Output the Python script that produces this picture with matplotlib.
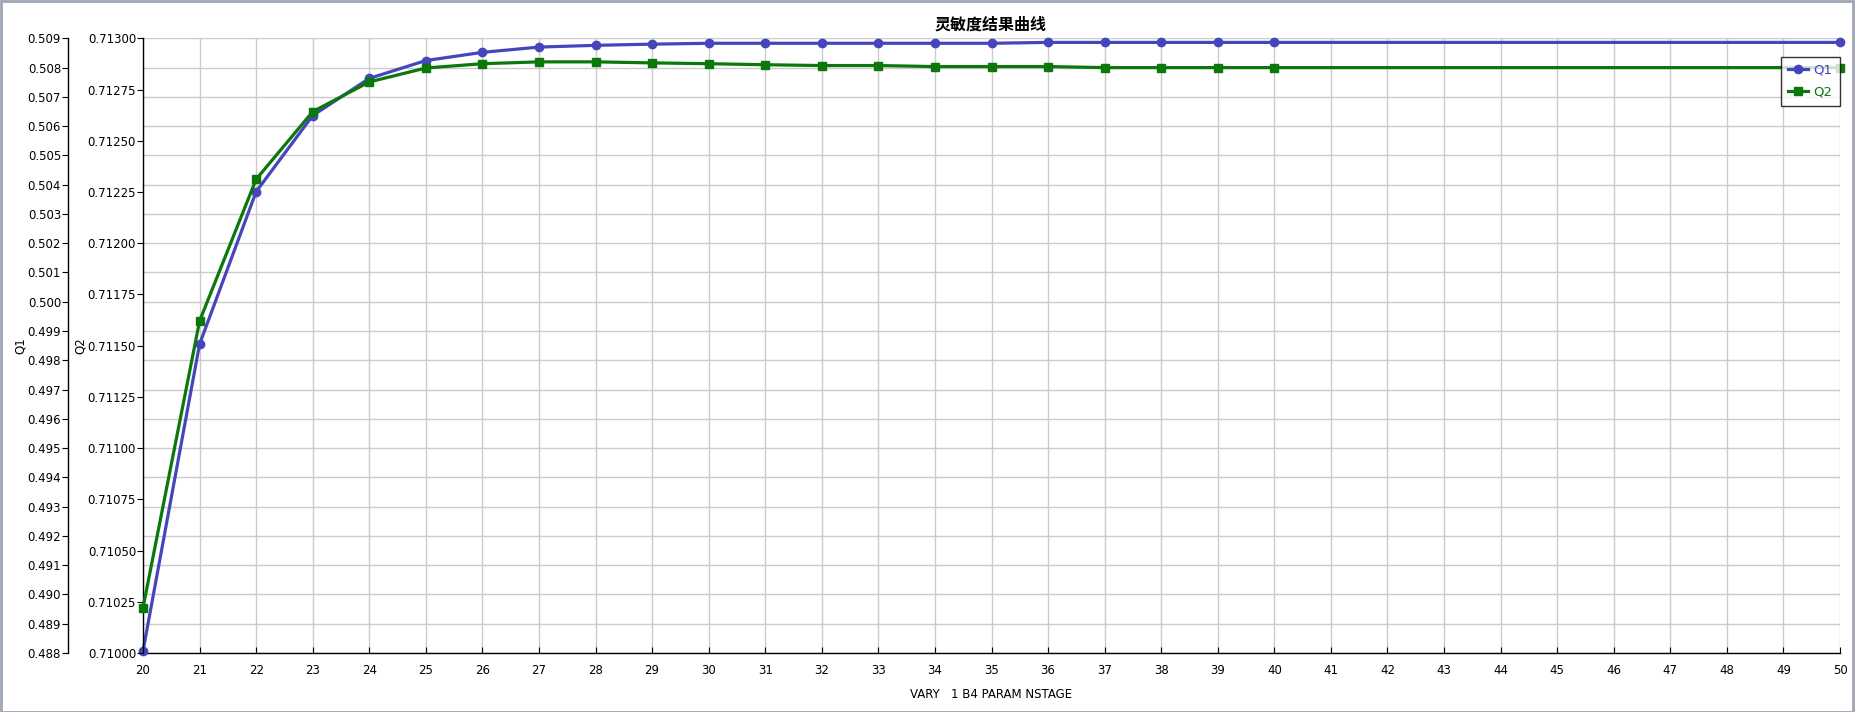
import matplotlib
matplotlib.use("Agg")
import matplotlib.pyplot as plt
from matplotlib.patches import Rectangle

plt.rcParams['font.family'] = ['DejaVu Sans', 'Noto Sans CJK SC']

# NSTAGE (x) and results
x = [20, 21, 22, 23, 24, 25, 26, 27, 28, 29, 30, 31, 32, 33, 34, 35, 36, 37,
     38, 39, 40, 50]
q1 = [0.48807, 0.49855, 0.50376, 0.50636, 0.50763, 0.50824, 0.50852, 0.50870,
      0.50876, 0.50880, 0.50883, 0.50883, 0.50883, 0.50883, 0.50883, 0.50883,
      0.50886, 0.50886, 0.50886, 0.50886, 0.50886, 0.50886]
q2 = [0.710221, 0.711620, 0.712312, 0.712642, 0.712787, 0.712855, 0.712876,
      0.712885, 0.712885, 0.712880, 0.712876, 0.712871, 0.712867, 0.712867,
      0.712862, 0.712862, 0.712862, 0.712857, 0.712857, 0.712857, 0.712857,
      0.712857]

q1_ticks = [0.488 + 0.001 * i for i in range(22)]
q2_ticks = [0.71 + 0.00025 * i for i in range(13)]
x_ticks = list(range(20, 51))

c_q1 = "#4646bc"
c_q2 = "#0a780a"

fig = plt.figure(figsize=(18.6, 7.12), dpi=100)
fig.patches.append(Rectangle((0.0005, 0.0), 0.9955, 0.998, transform=fig.transFigure,
                             fill=False, edgecolor="#9ea6b4", linewidth=2))

ax = fig.add_axes([143 / 1860, 59 / 712, 1697 / 1860, 614.7 / 712])
ax2 = ax.twinx()

# Q1 on the outer left axis
ax.plot(x, q1, color=c_q1, lw=2.3, marker="o", ms=6, label="Q1", clip_on=False, zorder=3)
ax.set_ylim(0.488, 0.509)
ax.set_yticks(q1_ticks)
ax.set_yticklabels(["%.3f" % v for v in q1_ticks])
ax.spines['left'].set_position(('outward', 75 * 0.72))
for s in ['top', 'right']:
    ax.spines[s].set_visible(False)
ax.set_ylabel("Q1", fontsize=8.5)
ax.yaxis.set_label_coords(-(143 - 27) / 1697, 0.5)

# Q2 on the inner left axis
ax2.plot(x, q2, color=c_q2, lw=2.3, marker="s", ms=6, label="Q2", clip_on=False, zorder=3)
ax2.set_ylim(0.71, 0.713)
ax2.set_yticks(q2_ticks)
ax2.set_yticklabels(["%.5f" % v for v in q2_ticks])
ax2.yaxis.set_ticks_position('left')
ax2.yaxis.set_label_position('left')
ax2.spines['left'].set_visible(True)
for s in ['top', 'right', 'bottom']:
    ax2.spines[s].set_visible(False)
ax2.set_ylabel("Q2", fontsize=8.5)
ax2.yaxis.set_label_coords(-(143 - 87) / 1697, 0.5)

ax.set_xlim(20, 50)
ax.set_xticks(x_ticks)
ax.set_xlabel("VARY   1 B4 PARAM NSTAGE", fontsize=8.5, labelpad=8)
ax.grid(True, color="#cbcbcb", lw=1)
ax.set_axisbelow(True)

ax.tick_params(axis='x', direction='in', length=4, pad=8, labelsize=8.5)
ax.tick_params(axis='y', direction='out', length=4, pad=1, labelsize=8.5)
ax2.tick_params(axis='y', direction='out', length=4, pad=1, labelsize=8.5)
for a in (ax, ax2):
    for s in a.spines.values():
        s.set_linewidth(1)

fig.text(991 / 1860, 1 - 25 / 712, "灵敏度结果曲线", ha="center", va="center",
         fontsize=11.5, fontweight="bold", family=['Noto Sans CJK SC', 'DejaVu Sans'])

h1, l1 = ax.get_legend_handles_labels()
h2, l2 = ax2.get_legend_handles_labels()
leg = ax2.legend(h1 + h2, l1 + l2, loc="upper right", bbox_to_anchor=(1.0, 1 - 18.4 / 614.7),
                 borderaxespad=0, fancybox=False, edgecolor="black", fontsize=9.5,
                 labelcolor="linecolor", handlelength=1.5, handletextpad=0.45,
                 borderpad=0.55, labelspacing=0.65)
leg.get_frame().set_linewidth(1)
leg.set_zorder(10)

fig.savefig("out.png", dpi=100)
